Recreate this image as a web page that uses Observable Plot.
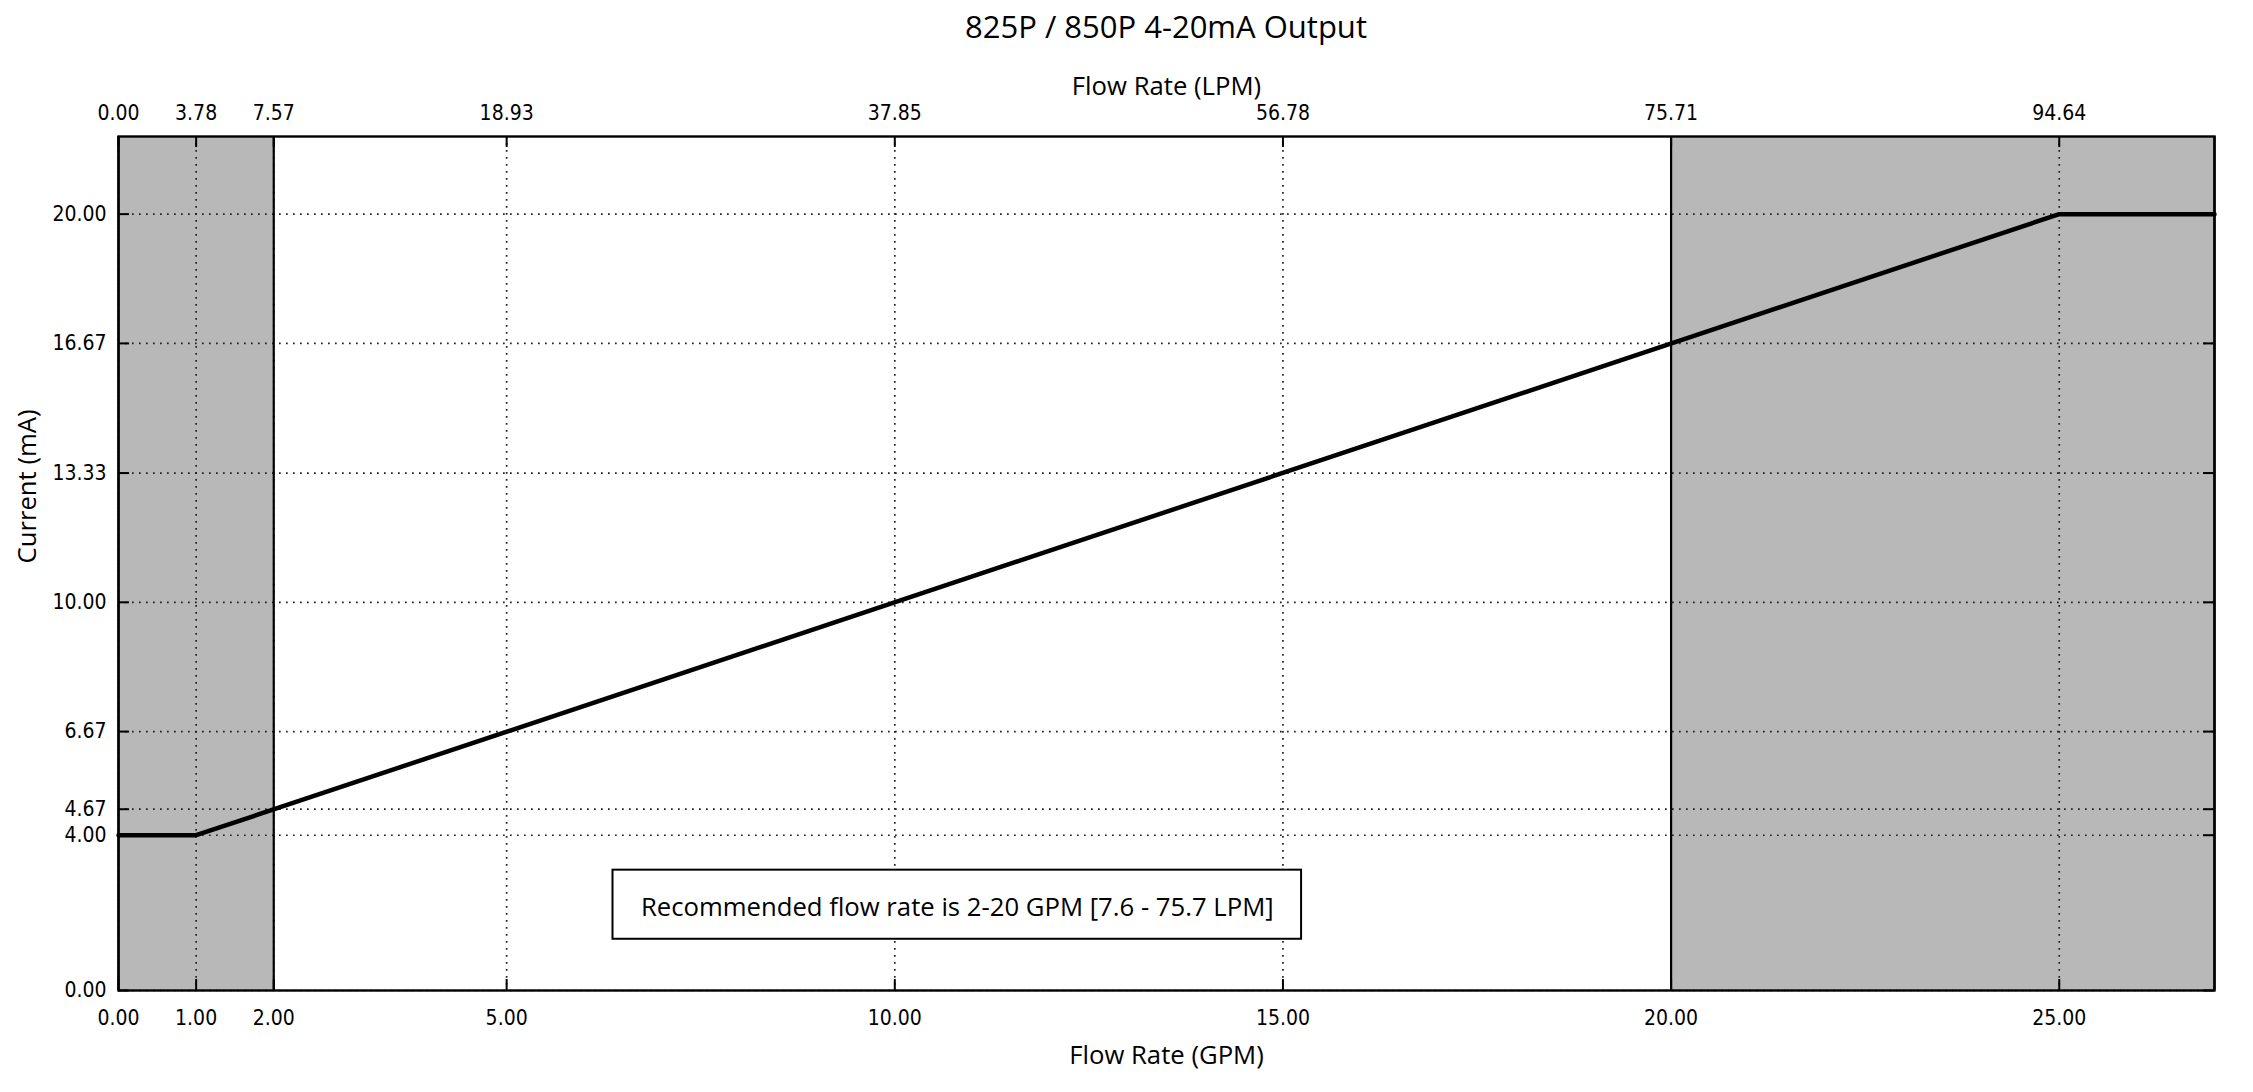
<!DOCTYPE html>
<html>
<head>
<meta charset="utf-8">
<script src="https://cdn.jsdelivr.net/npm/d3@7"></script>
<script src="https://cdn.jsdelivr.net/npm/@observablehq/plot@0.6"></script>
<style>
  html, body { margin: 0; padding: 0; background: #fff; overflow: hidden; }
  #title {
    width: 2253px; box-sizing: border-box; height: 50px; line-height: 52px;
    padding-left: 118px; padding-right: 39px; text-align: center;
    font-family: "Open Sans", sans-serif; font-size: 31px; color: #000;
  }
  #chart svg { display: block; }
</style>
</head>
<body>
<div id="title">825P / 850P 4-20mA Output</div>
<div id="chart"></div>
<script>
// ---- data ----
const flowGPM   = [0, 1, 25, 27];          // Flow Rate (GPM)
const currentMA = [4, 4, 20, 20];          // Current (mA)

const gpmTicks  = [0, 1, 2, 5, 10, 15, 20, 25];
const lpmLabels = ["0.00", "3.78", "7.57", "18.93", "37.85", "56.78", "75.71", "94.64"];
const currentTicks = [0, 4, 4.67, 6.67, 10, 13.33, 16.67, 20];

const shadedFrom = [0, 20];                // out-of-range flow zones (GPM)
const shadedTo   = [2, 27];

const noteText = "Recommended flow rate is 2-20 GPM [7.6 - 75.7 LPM]";
const noteX1 = [6.37], noteX2 = [15.24], noteY1 = [1.32], noteY2 = [3.10];

const titleX = "Flow Rate (GPM)";
const titleXTop = "Flow Rate (LPM)";
const titleY = "Current (mA)";

// ---- build tables ----
const series = flowGPM.map((x, i) => ({x, y: currentMA[i]}));
const zones = shadedFrom.map((x1, i) => ({x1, x2: shadedTo[i]}));
const note = [{x1: noteX1[0], x2: noteX2[0], y1: noteY1[0], y2: noteY2[0], text: noteText}];

const W = 2253, H = 1040;
const mL = 118, mR = 39, mT = 86, mB = 100;
const plotW = W - mL - mR, plotH = H - mT - mB;
const labelFont = {fontFamily: "Open Sans", fontSize: 25.7, fill: "#000"};
const gridStyle = {stroke: "#222", strokeWidth: 1.7, strokeDasharray: "1.7,5.3"};

const chart = Plot.plot({
  width: W, height: H,
  marginLeft: mL, marginRight: mR, marginTop: mT, marginBottom: mB,
  style: {fontFamily: "'DejaVu Sans Condensed', 'Liberation Sans', sans-serif", fontSize: "21px", color: "#000", background: "#fff"},
  x: {domain: [0, 27]},
  y: {domain: [0, 22]},
  marks: [
    Plot.rect(zones, {x1: "x1", x2: "x2", fill: "#b8b8b8"}),
    Plot.ruleX(gpmTicks, {x: d => d, ...gridStyle}),
    Plot.ruleY(currentTicks, {y: d => d, ...gridStyle}),
    Plot.ruleX(zones, {x: "x1", stroke: "#000", strokeWidth: 2.2}),
    Plot.ruleX(zones, {x: "x2", stroke: "#000", strokeWidth: 2.2}),
    Plot.rect(note, {x1: "x1", x2: "x2", y1: "y1", y2: "y2", fill: "#fff", stroke: "#000", strokeWidth: 2}),
    Plot.text(note, {x: d => (d.x1 + d.x2) / 2, y: d => (d.y1 + d.y2) / 2, text: "text", dy: 3, ...labelFont}),
    Plot.line(series, {x: "x", y: "y", stroke: "#000", strokeWidth: 4.5, strokeLinejoin: "miter"}),
    // inward tick marks
    Plot.tickX(gpmTicks, {x: d => d, insetBottom: plotH - 11, stroke: "#000", strokeWidth: 2}),
    Plot.tickX(gpmTicks, {x: d => d, insetTop: plotH - 11, stroke: "#000", strokeWidth: 2}),
    Plot.tickY(currentTicks, {y: d => d, insetRight: plotW - 11, stroke: "#000", strokeWidth: 2}),
    Plot.tickY(currentTicks, {y: d => d, insetLeft: plotW - 11, stroke: "#000", strokeWidth: 2}),
    Plot.frame({stroke: "#000", strokeWidth: 2.4}),
    // axes
    Plot.axisX({anchor: "bottom", ticks: gpmTicks, tickFormat: d => d.toFixed(2), tickSize: 0, tickPadding: 20, label: null}),
    Plot.axisX({anchor: "top", ticks: gpmTicks, tickFormat: d => lpmLabels[gpmTicks.indexOf(d)], tickSize: 0, tickPadding: 17, label: null}),
    Plot.axisY({anchor: "left", ticks: currentTicks, tickFormat: d => d.toFixed(2), tickSize: 0, tickPadding: 12, label: null}),
    // axis titles
    Plot.text([titleXTop], {frameAnchor: "top", dy: -60, text: d => d, ...labelFont}),
    Plot.text([titleX], {frameAnchor: "bottom", dy: 73, text: d => d, ...labelFont}),
    Plot.text([titleY], {frameAnchor: "left", dx: -91, rotate: -90, text: d => d, ...labelFont})
  ]
});
document.getElementById("chart").appendChild(chart);
</script>
</body>
</html>
